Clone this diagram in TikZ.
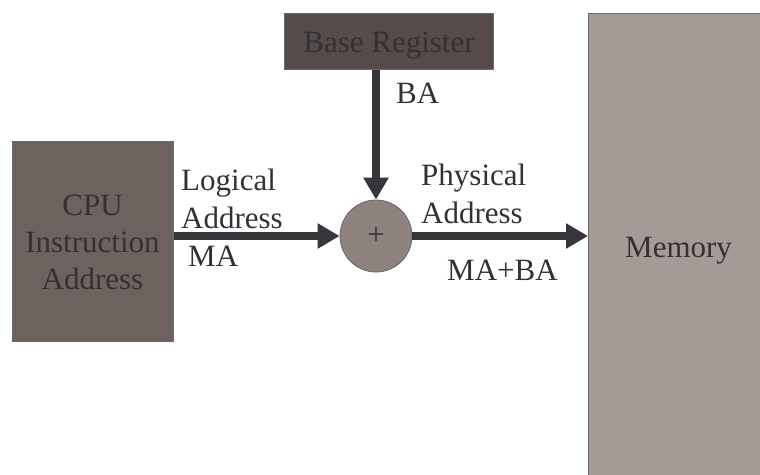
\documentclass[tikz,border=0pt]{standalone}
\usepackage{fontspec}
\setmainfont{Liberation Serif}
\usetikzlibrary{arrows.meta}
\definecolor{txt}{HTML}{333036}
\definecolor{arr}{HTML}{38353A}
\definecolor{basefill}{HTML}{554B48}
\definecolor{cpufill}{HTML}{6E625E}
\definecolor{circfill}{HTML}{8E827E}
\definecolor{memfill}{HTML}{A69A96}
\definecolor{edge}{HTML}{6A6A6A}
\tikzset{
  blk/.style={draw=edge, line width=0.8pt, inner sep=0pt, text=txt, align=center},
  lbl/.style={inner sep=0pt, anchor=base west, text=txt},
  bigarrow/.style={draw=arr, line width=8pt, -{Triangle[length=22pt,width=24pt]}, shorten >=0pt},
}
\begin{document}
\begin{tikzpicture}[x=1pt,y=-1pt,font=\fontsize{31}{37}\selectfont]
\useasboundingbox (0,0) rectangle (760,474);
\begin{scope}
\clip (0,0) rectangle (760,474);
\node[blk, fill=memfill, minimum width=182pt, minimum height=470pt, anchor=north west] (mem) at (588,13) {};
\end{scope}
\node[lbl] (memt) at (625,257) {Memory};
\node[blk, fill=basefill, minimum width=209pt, minimum height=56pt, anchor=north west] (base) at (284,13) {};
\node[lbl, anchor=base] (baset) at (389,52) {Base Register};
\node[blk, fill=cpufill, minimum width=161pt, minimum height=200pt, anchor=north west] (cpu) at (12,141) {};
\node[inner sep=0pt, text=txt, align=center, anchor=base] (cput) at (92.5,289) {CPU\\Instruction\\Address};
\node[blk, circle, fill=circfill, minimum size=72pt] (c) at (376,236) {};
\node[inner sep=0pt, text=txt, font=\fontsize{30}{30}\selectfont] (plus) at (c) {+};
\draw[bigarrow] (cpu.east |- c) -- (c.west);
\draw[bigarrow] (base.south -| c) -- (c.north);
\draw[bigarrow] (c.east) -- (mem.west |- c);
\node[lbl] (ba) at (396,103) {BA};
\node[lbl] (log1) at (181,190) {Logical};
\node[lbl] (log2) at (181,228) {Address};
\node[lbl] (ma) at (188,266) {MA};
\node[lbl] (ph1) at (421,185) {Physical};
\node[lbl] (ph2) at (421,223) {Address};
\node[lbl] (mba) at (447,280) {MA+BA};
\end{tikzpicture}
\end{document}
